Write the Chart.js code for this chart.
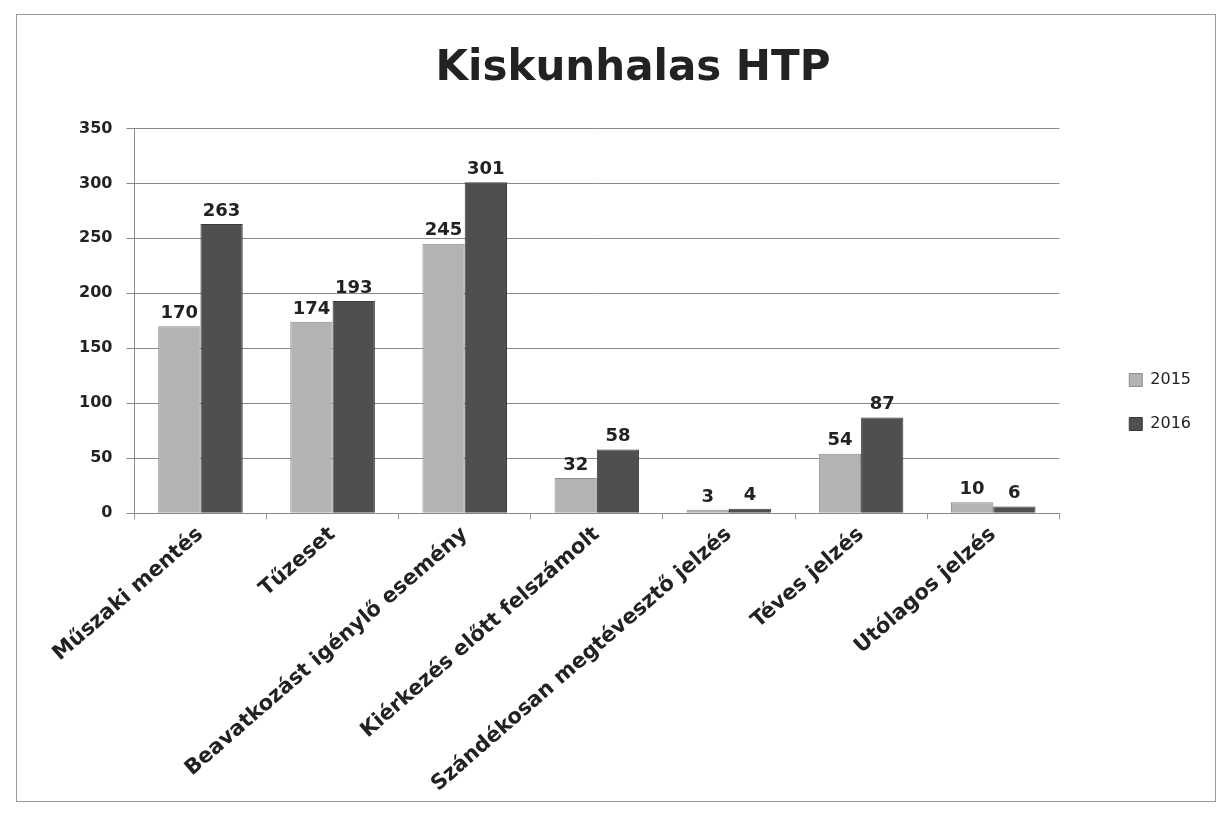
<!DOCTYPE html>
<html>
<head>
<meta charset="utf-8">
<script src="https://cdn.jsdelivr.net/npm/chart.js@4/dist/chart.umd.min.js"></script>
<style>
    body { margin: 0; background: #fff; }
    #wrap { position: relative; width: 1223px; height: 814px; }
    #frame { position: absolute; left: 16px; top: 14px; width: 1198px; height: 786px; border: 1px solid #9a9a9a; pointer-events: none; }
</style>
</head>
<body>
<div id="wrap">
    <canvas id="myChart" width="1223" height="814"></canvas>
    <div id="frame"></div>
</div>
<script>
"use strict";

//Kategóriák és értékek
const categories = [
    'Műszaki mentés',
    'Tűzeset',
    'Beavatkozást igénylő esemény',
    'Kiérkezés előtt felszámolt',
    'Szándékosan megtévesztő jelzés',
    'Téves jelzés',
    'Utólagos jelzés'
];
const values2015 = [170, 174, 245, 32, 3, 54, 10];
const values2016 = [263, 193, 301, 58, 4, 87, 6];
const yTicks = [0, 50, 100, 150, 200, 250, 300, 350];

//Egyszerű plugin, ami kiírja az értékeket az oszlopok fölé.
const barLabels = {
    id: 'barLabels',
    afterDatasetsDraw(chart) {
        const ctx = chart.ctx;
        ctx.save();
        ctx.font = 'bold 18px "DejaVu Sans"';
        ctx.fillStyle = '#222';
        ctx.textAlign = 'center';
        ctx.textBaseline = 'bottom';
        chart.data.datasets.forEach((ds, i) => {
            chart.getDatasetMeta(i).data.forEach((bar, j) => {
                ctx.fillText(ds.data[j], bar.x, bar.y - 4);
            });
        });
        ctx.restore();
    }
};

//Nagyobb rés a diagram és a jelmagyarázat között, és kicsit feljebb tolt jelmagyarázat.
const legendGap = {
    id: 'legendGap',
    afterInit(chart) {
        const legend = chart.legend;
        const gap = 42;
        const lift = 20;
        const fit = legend.fit;
        const draw = legend.draw;
        legend.fit = function () {
            fit.call(this);
            this.width += gap;
        };
        legend.draw = function () {
            this.left += gap;
            this.top -= lift;
            this.bottom -= lift;
            draw.call(this);
            this.left -= gap;
            this.top += lift;
            this.bottom += lift;
        };
    }
};

const ctx = document.getElementById('myChart');

new Chart(ctx, {
    type: 'bar',
    data: {
        labels: categories,
        datasets: [{
            label: '2015',
            data: values2015,
            backgroundColor: '#b3b3b3',
            borderColor: '#8c8c8c',
            borderWidth: 1,
            barPercentage: 1,
            categoryPercentage: 0.64
        }, {
            label: '2016',
            data: values2016,
            backgroundColor: '#4f4f4f',
            borderColor: '#3a3a3a',
            borderWidth: 1,
            barPercentage: 1,
            categoryPercentage: 0.64
        }]
    },
    options: {
        responsive: false,
        animation: false,
        layout: { padding: { left: 65, right: 22, top: 44, bottom: 14 } },
        plugins: {
            title: {
                display: true,
                text: 'Kiskunhalas HTP',
                color: '#222',
                font: { family: '"DejaVu Sans"', size: 42, weight: 'bold' },
                padding: { top: 0, bottom: 34 }
            },
            legend: {
                position: 'right',
                labels: {
                    color: '#222',
                    font: { family: '"DejaVu Sans"', size: 16 },
                    boxWidth: 13,
                    boxHeight: 13,
                    padding: 28
                }
            },
            tooltip: { enabled: false }
        },
        scales: {
            x: {
                grid: { display: true, drawOnChartArea: false, offset: true, color: '#999', tickLength: 6 },
                border: { color: '#888' },
                ticks: {
                    color: '#222',
                    font: { family: '"DejaVu Sans"', size: 21, weight: 'bold' },
                    minRotation: 41,
                    maxRotation: 41,
                    autoSkip: false
                }
            },
            y: {
                min: 0,
                max: 350,
                afterBuildTicks(axis) {
                    axis.ticks = yTicks.map(v => ({ value: v }));
                },
                grid: { color: '#8a8a8a', tickLength: 8 },
                border: { color: '#888' },
                ticks: {
                    color: '#222',
                    font: { family: '"DejaVu Sans"', size: 16, weight: 'bold' },
                    padding: 14
                }
            }
        }
    },
    plugins: [barLabels, legendGap]
});
</script>
</body>
</html>
